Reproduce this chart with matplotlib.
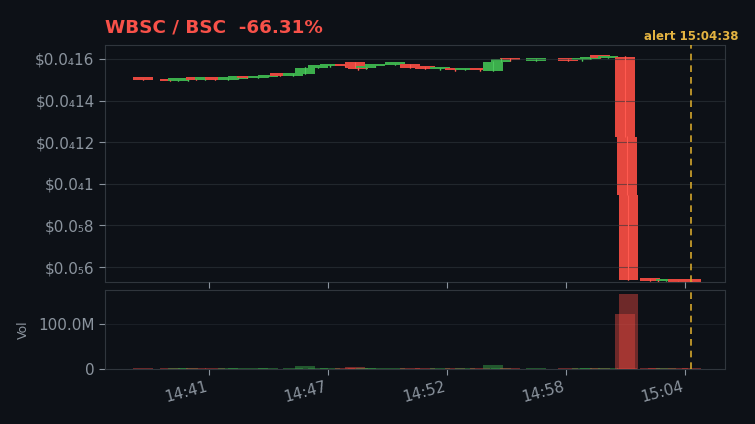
import matplotlib
matplotlib.use('Agg')
import matplotlib.pyplot as plt
import matplotlib.transforms as mtransforms
from matplotlib.ticker import FixedLocator, FuncFormatter, MultipleLocator

# candle data (time of bar, prices in $, volume)
times = ['14:38:10', '14:39:28', '14:39:51', '14:40:20', '14:40:43', '14:41:10', '14:41:38',
         '14:42:16', '14:42:45', '14:43:11', '14:43:43', '14:44:12', '14:44:47', '14:45:25',
         '14:45:59', '14:46:37', '14:47:12', '14:47:55', '14:48:24', '14:48:33', '14:48:56',
         '14:49:22', '14:50:20', '14:51:04', '14:51:47', '14:52:31', '14:53:14', '14:53:43',
         '14:54:26', '14:55:04', '14:55:28', '14:55:53', '14:57:09', '14:58:41', '14:59:22',
         '14:59:46', '15:00:14', '15:00:38', '15:01:27', '15:01:32', '15:01:37', '15:02:39',
         '15:03:02', '15:03:25', '15:04:00', '15:04:40']
opens = [15.02, 14.97, 14.95, 14.97, 15.02, 14.99, 15.02, 15.00, 15.05, 15.12, 15.08, 15.12,
         15.22, 15.20, 15.28, 15.58, 15.64, 15.72, 15.85, 15.62, 15.55, 15.64, 15.72, 15.76,
         15.60, 15.50, 15.50, 15.46, 15.52, 15.44, 15.86, 16.02, 15.92, 15.98, 15.93, 15.99,
         16.10, 16.04, 16.10, 12.25, 9.45, 5.41, 5.35, 5.31, 5.33, 5.31]
closes = [15.00, 14.94, 14.98, 15.01, 14.99, 15.01, 14.99, 15.08, 15.12, 15.08, 15.13, 15.18,
          15.20, 15.25, 15.58, 15.62, 15.68, 15.66, 15.58, 15.50, 15.62, 15.66, 15.75, 15.58,
          15.52, 15.55, 15.45, 15.50, 15.45, 15.87, 16.02, 15.93, 15.98, 15.92, 15.99, 16.10,
          16.05, 16.09, 12.25, 9.46, 5.38, 5.33, 5.31, 5.33, 5.30, 5.29]
highs = [15.03, 14.98, 14.99, 15.02, 15.03, 15.02, 15.03, 15.09, 15.13, 15.13, 15.14, 15.19,
         15.23, 15.26, 15.60, 15.63, 15.69, 15.73, 15.87, 15.63, 15.63, 15.67, 15.76, 15.77,
         15.61, 15.56, 15.51, 15.51, 15.53, 15.88, 16.03, 16.03, 15.99, 15.99, 16.00, 16.11,
         16.11, 16.10, 16.12, 12.28, 9.47, 5.42, 5.36, 5.34, 5.34, 5.32]
lows = [14.99, 14.93, 14.94, 14.96, 14.98, 14.98, 14.98, 14.99, 15.04, 15.07, 15.07, 15.11,
        15.19, 15.19, 15.27, 15.57, 15.63, 15.65, 15.57, 15.49, 15.54, 15.63, 15.71, 15.57,
        15.51, 15.49, 15.44, 15.45, 15.44, 15.43, 15.85, 15.92, 15.91, 15.91, 15.92, 15.98,
        16.04, 16.03, 12.24, 9.44, 5.36, 5.32, 5.30, 5.30, 5.29, 5.28]
volumes = [1.5, 1.2, 1.4, 1.3, 1.2, 1.1, 1.3, 1.4, 1.2, 1.0, 1.3, 1.2, 1.1, 1.5, 6.5, 1.2,
           1.4, 2.0, 4.0, 1.5, 1.3, 1.2, 1.4, 2.5, 1.6, 1.3, 1.2, 1.4, 1.5, 8.5, 1.6, 1.4,
           1.5, 1.3, 1.2, 1.6, 1.4, 1.2, 122.0, 3.0, 167.0, 2.5, 2.0, 1.5, 1.6, 3.0]
pair_title = 'WBSC / BSC  -66.31%'
alert_time = '15:04:38'
xtick_times = ['14:41:21', '14:47:06', '14:52:51', '14:58:36', '15:04:21']

BG = '#0d1117'
RED = '#e5483f'
GREEN = '#3cae4c'
GRID = '#30363d'
TXT = '#8b949e'
SUB = str.maketrans('0123456789', '₀₁₂₃₄₅₆₇₈₉')


def to_min(t):
    h, m, s = [int(v) for v in t.split(':')]
    return (h - 14) * 60 + m + s / 60.0


def price_fmt(v, pos=None):
    if v <= 0:
        return '$0'
    s = '%.12f' % v
    dec = s.split('.')[1]
    zeros = len(dec) - len(dec.lstrip('0'))
    sig = dec.lstrip('0')[:2].rstrip('0')
    return '$0.0' + str(zeros).translate(SUB) + sig


def vol_fmt(v, pos=None):
    if v == 0:
        return '0'
    return '%.1fM' % (v / 1e6)


def time_fmt(v, pos=None):
    h = 14 + int(v // 60)
    m = int(v % 60)
    return '%d:%02d' % (h, m)


x = [to_min(t) for t in times]
o = [v * 1e-6 for v in opens]
c = [v * 1e-6 for v in closes]
hi = [v * 1e-6 for v in highs]
lo = [v * 1e-6 for v in lows]
vol = [v * 1e6 for v in volumes]
cols = [GREEN if cc >= oo else RED for oo, cc in zip(o, c)]
alert_x = to_min(alert_time)

fig = plt.figure(figsize=(7.55, 4.24), dpi=100, facecolor=BG)
ax1 = fig.add_axes([105 / 755, 1 - 282 / 424, 620 / 755, 237 / 424])
ax2 = fig.add_axes([105 / 755, 1 - 369 / 424, 620 / 755, 79 / 424])

width = 0.95
min_body = 0.12e-6
bottoms = [min(oo, cc) for oo, cc in zip(o, c)]
heights = [max(abs(cc - oo), min_body) for oo, cc in zip(o, c)]
ax1.vlines(x, lo, hi, colors=cols, lw=1, zorder=2)
ax1.bar(x, heights, bottom=bottoms, width=width, color=cols, zorder=2)
# wick on top of body, slightly brighter like the reference
ax1.vlines(x, lo, hi, colors=['#ff5a50' if cl == RED else '#4cc75c' for cl in cols],
           lw=0.8, zorder=3)

ax2.bar(x, vol, width=width, color=cols, alpha=0.45, zorder=2)

for ax in (ax1, ax2):
    ax.set_facecolor(BG)
    for sp in ax.spines.values():
        sp.set_color(GRID)
    ax.tick_params(colors=TXT, labelsize=11, length=4)
    ax.set_xlim(36.33, 66.28)
    ax.xaxis.set_major_locator(FixedLocator([to_min(t) for t in xtick_times]))
    ax.xaxis.set_major_formatter(FuncFormatter(time_fmt))
    ax.axvline(alert_x, color='#d4a72c', lw=1.2, ls=(0, (4, 3)), zorder=6)

ax1.set_ylim(5.28e-6, 16.67e-6)
ax1.yaxis.set_major_locator(MultipleLocator(2e-6))
ax1.yaxis.set_major_formatter(FuncFormatter(price_fmt))
ax1.grid(axis='y', color=GRID, alpha=0.6, lw=0.8)
ax1.set_axisbelow(False)
ax1.tick_params(axis='x', labelbottom=False)

ax2.set_ylim(0, 175e6)
ax2.yaxis.set_major_locator(FixedLocator([0, 100e6]))
ax2.yaxis.set_major_formatter(FuncFormatter(vol_fmt))
ax2.grid(axis='y', color=GRID, alpha=0.4, lw=0.8)
ax2.set_ylabel('Vol', color=TXT, fontsize=9, labelpad=6)
for lab in ax2.get_xticklabels():
    lab.set_rotation(15)
    lab.set_ha('right')

trans = mtransforms.blended_transform_factory(ax1.transData, ax1.transAxes)
ax1.text(alert_x, 1.01, 'alert ' + alert_time, transform=trans, ha='center', va='bottom',
         color='#e3b341', fontsize=8.5, fontweight='bold')

fig.text(105 / 755, 1 - 28 / 424, pair_title, color='#f85149', fontsize=13.2,
         fontweight='bold', va='center', ha='left')

plt.savefig('out.png', dpi=100, facecolor=BG)
